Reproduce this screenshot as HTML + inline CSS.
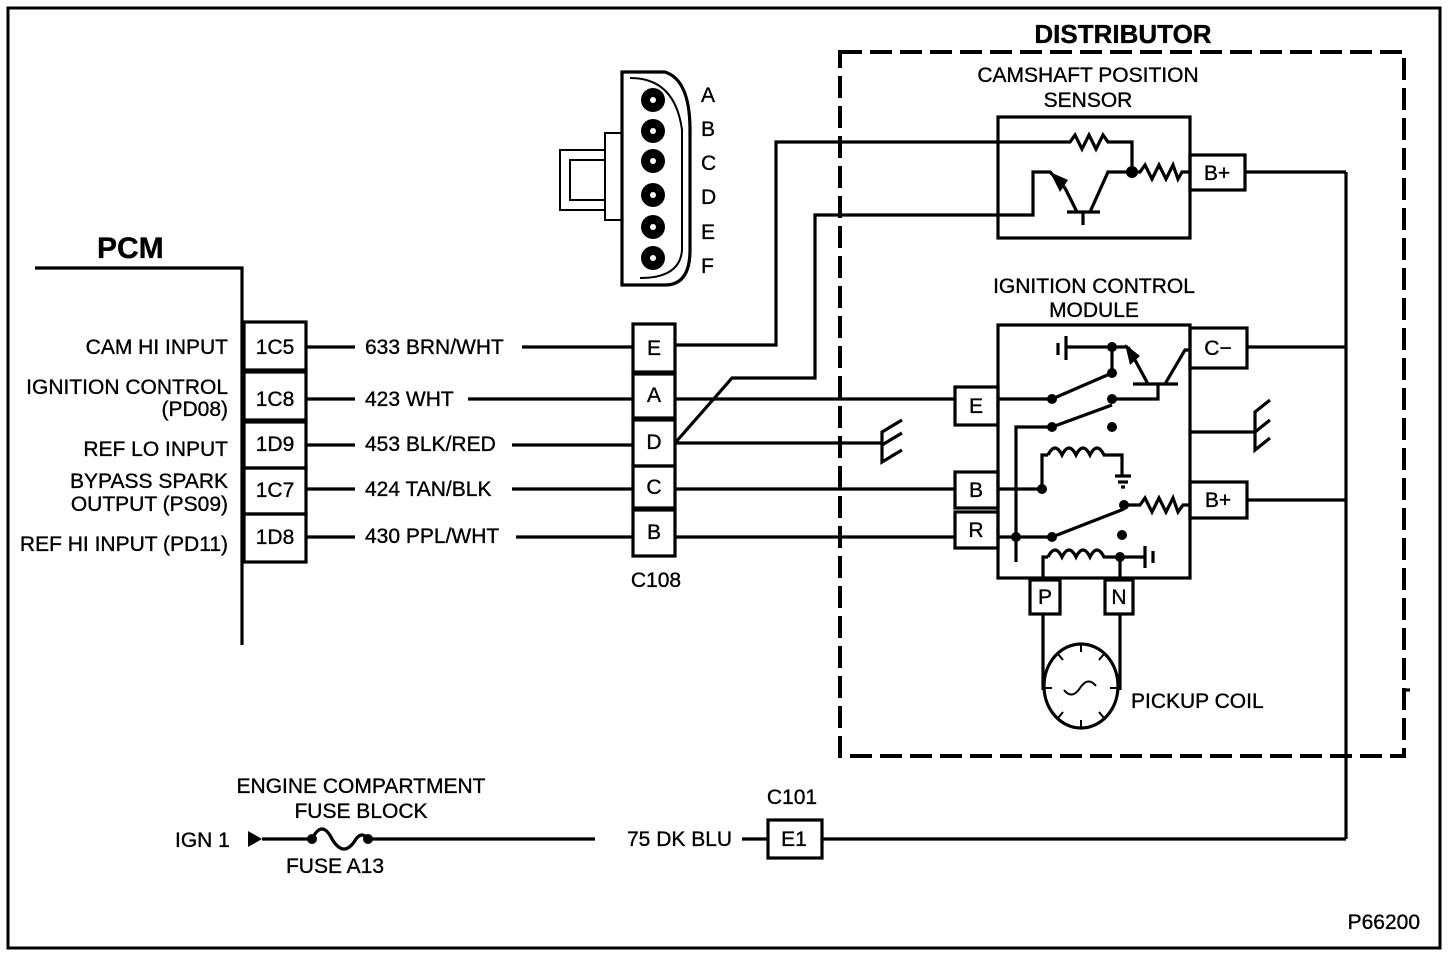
<!DOCTYPE html>
<html><head><meta charset="utf-8"><style>
html,body{margin:0;padding:0;background:#fff;}
svg{display:block;}
text{font-family:"Liberation Sans",Arial,sans-serif;font-size:21px;fill:#000;stroke:#000;stroke-width:0.35px;}
.b{font-weight:bold;}
</style></head><body>
<svg width="1456" height="954" viewBox="0 0 1456 954" xmlns="http://www.w3.org/2000/svg">
<g fill="none" stroke="#000" stroke-width="3.2">
<rect x="8" y="8" width="1432" height="940" stroke-width="3"/>
<polyline points="35,268 242,268 242,645"/>
<rect x="244" y="322" width="62" height="48"/>
<rect x="244" y="372" width="62" height="48"/>
<rect x="244" y="422" width="62" height="46"/>
<rect x="244" y="468" width="62" height="46"/>
<rect x="244" y="514" width="62" height="48"/>
<line x1="306" y1="347" x2="355" y2="347"/>
<line x1="306" y1="399" x2="355" y2="399"/>
<line x1="306" y1="445" x2="355" y2="445"/>
<line x1="306" y1="489" x2="355" y2="489"/>
<line x1="306" y1="537" x2="355" y2="537"/>
<line x1="522" y1="347" x2="633" y2="347"/>
<line x1="468" y1="399" x2="633" y2="399"/>
<line x1="512" y1="445" x2="633" y2="445"/>
<line x1="512" y1="489" x2="633" y2="489"/>
<line x1="516" y1="537" x2="633" y2="537"/>
<rect x="633" y="324" width="42" height="48"/>
<rect x="633" y="374" width="42" height="44"/>
<rect x="633" y="420" width="42" height="46"/>
<rect x="633" y="466" width="42" height="42"/>
<rect x="633" y="510" width="42" height="46"/>
<polyline points="675,345 776,345 776,142 998,142"/>
<polyline points="675,443 732,378 815,378 815,215 998,215"/>
<line x1="675" y1="399" x2="955" y2="399"/>
<line x1="675" y1="443" x2="882" y2="443"/>
<polyline points="902,420 882,432 882,462 902,450"/>
<line x1="882" y1="445" x2="902" y2="433"/>
<line x1="675" y1="489" x2="955" y2="489"/>
<line x1="675" y1="537" x2="955" y2="537"/>
<path d="M622,72 L665,72 Q690,80 690,130 L690,250 Q690,285 665,285 L622,285 Z"/>
<path d="M630,78 Q675,78 682,130 L682,250 Q680,278 640,278" stroke-width="2"/>
<polyline points="622,133 605,133 605,150 560,150 560,210 605,210 605,220 622,220" stroke-width="2"/>
<polyline points="605,150 605,210" stroke-width="2"/>
<polyline points="605,160 570,160 570,200 605,200" stroke-width="2"/>
<rect x="840" y="52" width="564" height="704" stroke-dasharray="22,8" stroke-width="4"/>
<rect x="998" y="117" width="192" height="121"/>
<polyline points="998,142 1070,142 1075,135 1082,149 1089,135 1096,149 1103,135 1108,142 1132,142 1132,172"/>
<polyline points="1132,172 1140,172 1145,165 1152,179 1159,165 1166,179 1173,165 1178,179 1182,172 1190,172"/>
<rect x="1190" y="155" width="55" height="35"/>
<polyline points="998,215 1033,215 1033,172 1050,172 1065,188"/>
<line x1="1065" y1="188" x2="1077" y2="212"/>
<line x1="1067" y1="212" x2="1100" y2="212"/>
<line x1="1083" y1="212" x2="1083" y2="225"/>
<polyline points="1090,212 1108,172 1132,172"/>
<line x1="1245" y1="172" x2="1346" y2="172"/>
<line x1="1346" y1="172" x2="1346" y2="839"/>
<line x1="1404" y1="690" x2="1410" y2="690"/>
<rect x="998" y="325" width="192" height="253"/>
<rect x="1190" y="328" width="57" height="40"/>
<line x1="1247" y1="347" x2="1346" y2="347"/>
<rect x="1190" y="482" width="57" height="36"/>
<line x1="1247" y1="500" x2="1346" y2="500"/>
<line x1="1190" y1="432" x2="1255" y2="432"/>
<polyline points="1270,400 1255,412 1255,450 1270,438"/>
<line x1="1255" y1="432" x2="1270" y2="420"/>
<rect x="955" y="387" width="43" height="38"/>
<rect x="955" y="472" width="43" height="36"/>
<rect x="955" y="512" width="43" height="36"/>
<line x1="1058" y1="343" x2="1058" y2="355"/>
<line x1="1066" y1="336" x2="1066" y2="360"/>
<line x1="1066" y1="347" x2="1128" y2="347"/>
<line x1="1112" y1="347" x2="1112" y2="373"/>
<line x1="998" y1="399" x2="1052" y2="399"/>
<line x1="1052" y1="399" x2="1112" y2="373"/>
<polyline points="1112,399 1158,399 1158,384"/>
<line x1="1128" y1="347" x2="1148" y2="384"/>
<line x1="1133" y1="384" x2="1178" y2="384"/>
<polyline points="1165,384 1185,350 1190,350"/>
<polyline points="1016,562 1016,427 1052,427 1112,405"/>
<line x1="998" y1="537" x2="1052" y2="537"/>
<line x1="1052" y1="537" x2="1124" y2="509"/>
<polyline points="1124,505 1140,505 1145,498 1152,512 1159,498 1166,512 1173,498 1178,512 1183,505 1190,505"/>
<polyline points="998,489 1042,489 1042,455 1048,455"/>
<path d="M1048,455 q7,-14 14,0 q7,-14 14,0 q7,-14 14,0 q7,-14 14,0 L1122,455 L1122,475"/>
<line x1="1115" y1="476" x2="1131" y2="476"/>
<line x1="1118" y1="482" x2="1128" y2="482"/>
<line x1="1121" y1="487" x2="1125" y2="487"/>
<polyline points="1043,578 1043,557 1048,557"/>
<path d="M1048,557 q7,-14 14,0 q7,-14 14,0 q7,-14 14,0 q7,-14 14,0 L1120,557 L1120,578"/>
<line x1="1120" y1="557" x2="1145" y2="557"/>
<line x1="1145" y1="546" x2="1145" y2="568"/>
<line x1="1153" y1="551" x2="1153" y2="563"/>
<rect x="1030" y="580" width="30" height="34"/>
<rect x="1105" y="580" width="28" height="34"/>
<line x1="1043" y1="614" x2="1043" y2="690"/>
<line x1="1120" y1="614" x2="1120" y2="690"/>
<ellipse cx="1081" cy="686" rx="37" ry="42"/>
<path d="M1064,690 q8,10 16,-2 q8,-12 16,-2" stroke-width="2"/>
<g stroke-width="2">
<line x1="1081" y1="644" x2="1081" y2="652"/><line x1="1081" y1="720" x2="1081" y2="728"/>
<line x1="1044" y1="688" x2="1052" y2="688"/><line x1="1110" y1="688" x2="1118" y2="688"/>
<line x1="1058" y1="654" x2="1063" y2="660"/><line x1="1104" y1="654" x2="1099" y2="660"/>
<line x1="1058" y1="718" x2="1063" y2="712"/><line x1="1104" y1="718" x2="1099" y2="712"/>
</g>
<line x1="262" y1="839" x2="312" y2="839"/>
<path d="M312,839 q10,-20 20,0 q12,20 24,0 q6,-8 12,0"/>
<line x1="368" y1="839" x2="595" y2="839"/>
<line x1="742" y1="839" x2="768" y2="839"/>
<rect x="768" y="820" width="54" height="38"/>
<polyline points="822,839 1346,839"/>
</g>
<g fill="#000">
<polygon points="248,831 262,839 248,847"/>
<circle cx="312" cy="839" r="5"/><circle cx="368" cy="839" r="5"/>
<circle cx="1132" cy="172" r="6"/>
<polygon points="1050,172 1068,180 1060,192"/>
<polygon points="1125,344 1140,356 1130,365"/>
<circle cx="1112" cy="347" r="5"/><circle cx="1112" cy="373" r="5"/>
<circle cx="1052" cy="399" r="5"/><circle cx="1112" cy="399" r="5"/>
<circle cx="1052" cy="427" r="5"/><circle cx="1112" cy="427" r="5"/>
<circle cx="1042" cy="489" r="5"/><circle cx="1124" cy="505" r="5"/>
<circle cx="1016" cy="537" r="5"/><circle cx="1052" cy="537" r="5"/>
<circle cx="1122" cy="535" r="5"/><circle cx="1120" cy="557" r="5"/>
<circle cx="653" cy="100" r="12"/><circle cx="653" cy="131" r="12"/>
<circle cx="653" cy="161" r="12"/><circle cx="653" cy="195" r="12"/>
<circle cx="653" cy="227" r="12"/><circle cx="653" cy="258" r="12"/>
</g>
<g fill="#fff">
<circle cx="653" cy="100" r="3"/><circle cx="653" cy="131" r="3"/>
<circle cx="653" cy="161" r="3"/><circle cx="653" cy="195" r="3"/>
<circle cx="653" cy="227" r="3"/><circle cx="653" cy="258" r="3"/>
</g>
<text x="97" y="258" class="b" style="font-size:30px">PCM</text>
<text x="1123" y="43" class="b" text-anchor="middle" style="font-size:26px">DISTRIBUTOR</text>
<g text-anchor="end">
<text x="228" y="354">CAM HI INPUT</text>
<text x="228" y="394">IGNITION CONTROL</text>
<text x="228" y="416">(PD08)</text>
<text x="228" y="456">REF LO INPUT</text>
<text x="228" y="488">BYPASS SPARK</text>
<text x="228" y="511">OUTPUT (PS09)</text>
<text x="228" y="551">REF HI INPUT (PD11)</text>
</g>
<g text-anchor="middle">
<text x="275" y="354">1C5</text>
<text x="275" y="406">1C8</text>
<text x="275" y="451">1D9</text>
<text x="275" y="497">1C7</text>
<text x="275" y="544">1D8</text>
<text x="654" y="355">E</text>
<text x="654" y="402">A</text>
<text x="654" y="449">D</text>
<text x="654" y="494">C</text>
<text x="654" y="539">B</text>
<text x="656" y="587">C108</text>
<text x="1088" y="82">CAMSHAFT POSITION</text>
<text x="1088" y="107">SENSOR</text>
<text x="1094" y="293">IGNITION CONTROL</text>
<text x="1094" y="317">MODULE</text>
<text x="1217" y="180">B+</text>
<text x="1218" y="355">C−</text>
<text x="1218" y="507">B+</text>
<text x="976" y="413">E</text>
<text x="976" y="497">B</text>
<text x="976" y="537">R</text>
<text x="1045" y="604">P</text>
<text x="1119" y="604">N</text>
<text x="361" y="793">ENGINE COMPARTMENT</text>
<text x="361" y="818">FUSE BLOCK</text>
<text x="335" y="873">FUSE A13</text>
<text x="792" y="804">C101</text>
<text x="794" y="846">E1</text>
</g>
<text x="365" y="354">633 BRN/WHT</text>
<text x="365" y="406">423 WHT</text>
<text x="365" y="451">453 BLK/RED</text>
<text x="365" y="496">424 TAN/BLK</text>
<text x="365" y="543">430 PPL/WHT</text>
<g>
<text x="701" y="102">A</text><text x="701" y="136">B</text>
<text x="701" y="170">C</text><text x="701" y="204">D</text>
<text x="701" y="239">E</text><text x="701" y="273">F</text>
</g>
<text x="1131" y="708">PICKUP COIL</text>
<text x="175" y="847">IGN 1</text>
<text x="627" y="846">75 DK BLU</text>
<text x="1420" y="929" text-anchor="end">P66200</text>
</svg>
</body></html>
